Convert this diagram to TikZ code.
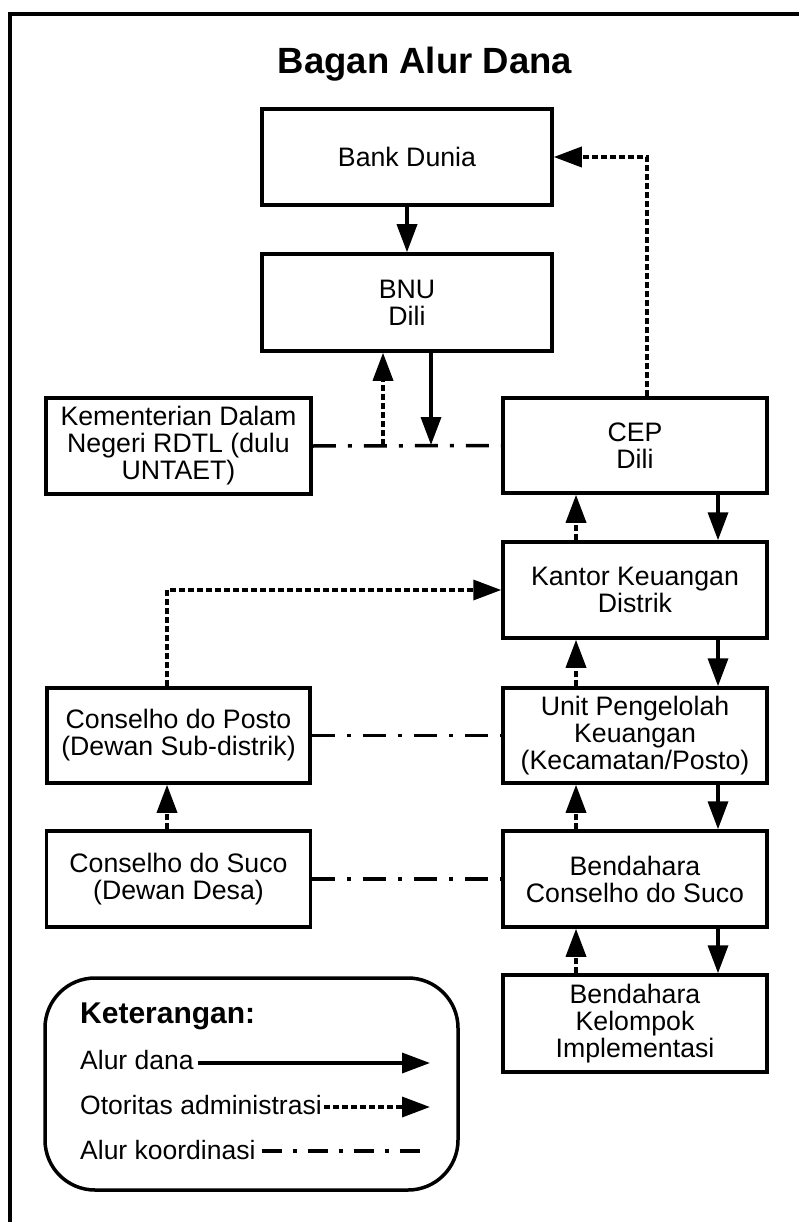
\documentclass[tikz,border=0pt]{standalone}
\usepackage{fontspec}
\setmainfont{Liberation Sans}
\usetikzlibrary{arrows.meta}

\begin{document}
\begin{tikzpicture}[x=1pt, y=-1pt,
  kotak/.style={draw, line width=3.5pt, inner sep=0pt, align=center, font=\fontsize{26.7}{27}\selectfont},
  teks/.style={inner sep=0pt, font=\fontsize{26.5}{27}\selectfont},
  dana/.style={line width=3.5pt, -{Triangle[length=28pt,width=20pt]}},
  otoritas/.style={line width=3.5pt, dash pattern=on 6pt off 3pt, -{Triangle[length=28pt,width=20pt]}},
  koordinasi/.style={line width=3.5pt, dash pattern=on 23pt off 12pt on 4pt off 12pt}]
	\useasboundingbox (0,0) rectangle (798,1222);
	\draw[line width=3.5pt] (10,14) rectangle (830,1250);
	\node[inner sep=0pt, font=\fontsize{36.5}{37}\bfseries] (judul) at (425,74) [anchor=base] {Bagan Alur Dana};

	% kotak-kotak
	\node[kotak, minimum width=290pt, minimum height=96pt] (bank) at (407,157) {Bank Dunia};
	\node[kotak, minimum width=290pt, minimum height=97pt] (bnu) at (407,302.5) {BNU\\Dili};
	\node[kotak, minimum width=265pt, minimum height=96pt] (kemen) at (178.5,446) {Kementerian Dalam\\Negeri RDTL (dulu\\UNTAET)};
	\node[kotak, minimum width=264pt, minimum height=95pt] (cep) at (635,445.5) {CEP\\Dili};
	\node[kotak, minimum width=264pt, minimum height=96pt] (kantor) at (635,590) {Kantor Keuangan\\Distrik};
	\node[kotak, minimum width=264pt, minimum height=95pt] (unit) at (635,735.5) {Unit Pengelolah\\Keuangan\\(Kecamatan/Posto)};
	\node[kotak, minimum width=264pt, minimum height=96pt] (bsuco) at (635,879) {Bendahara\\Conselho do Suco};
	\node[kotak, minimum width=264pt, minimum height=97pt] (kelompok) at (635,1023.5) {Bendahara\\Kelompok\\Implementasi};
	\node[kotak, minimum width=263pt, minimum height=95pt] (posto) at (178.5,735.5) {Conselho do Posto\\(Dewan Sub-distrik)};
	\node[kotak, minimum width=264pt, minimum height=96pt] (suco) at (178.5,879) {Conselho do Suco\\(Dewan Desa)};

	% alur dana
	\draw[dana] (bank) -- (bnu);
	\coordinate (kdana) at (431,445);
	\coordinate (kotor) at (383,445);
	\draw[koordinasi] (kemen.east) -- (cep.west);
	\draw[dana] (bnu.south -| kdana) -- (kdana);
	\draw[otoritas] (kotor) -- (bnu.south -| kotor);
	\draw[otoritas] ([xshift=12pt]cep.north) |- (bank.east);
	\draw[dana] ([xshift=83pt]cep.south) -- ([xshift=83pt]kantor.north);
	\draw[otoritas] ([xshift=-59pt]kantor.north) -- ([xshift=-59pt]cep.south);
	\draw[dana] ([xshift=83pt]kantor.south) -- ([xshift=83pt]unit.north);
	\draw[otoritas] ([xshift=-59pt]unit.north) -- ([xshift=-59pt]kantor.south);
	\draw[dana] ([xshift=83pt]unit.south) -- ([xshift=83pt]bsuco.north);
	\draw[otoritas] ([xshift=-59pt]bsuco.north) -- ([xshift=-59pt]unit.south);
	\draw[dana] ([xshift=83pt]bsuco.south) -- ([xshift=83pt]kelompok.north);
	\draw[otoritas] ([xshift=-59pt]kelompok.north) -- ([xshift=-59pt]bsuco.south);
	\draw[otoritas] ([xshift=-11.5pt]posto.north) |- (kantor.west);
	\draw[otoritas] ([xshift=-11.5pt]suco.north) -- ([xshift=-11.5pt]posto.south);
	\draw[koordinasi] (posto.east) -- (unit.west);
	\draw[koordinasi] (suco.east) -- (bsuco.west);

	% keterangan
	\draw[line width=3.5pt, rounded corners=50pt] (45,978) rectangle (458,1190);
	\node[inner sep=0pt, anchor=base west, font=\fontsize{30}{30}\bfseries] (ket) at (80,1023) {Keterangan:};
	\node[teks, anchor=base west] (ldana) at (80,1069) {Alur dana};
	\node[teks, anchor=base west] (lotor) at (80,1114) {Otoritas administrasi};
	\node[teks, anchor=base west] (lkoor) at (80,1159) {Alur koordinasi};
	\coordinate (ldanaujung) at (430,1063);
	\coordinate (lotorujung) at (430,1107);
	\coordinate (lkoorujung) at (422,1151);
	\draw[dana] ([xshift=4pt]ldana.east |- ldanaujung) -- (ldanaujung);
	\draw[otoritas] ([xshift=2pt]lotor.east |- lotorujung) -- (lotorujung);
	\draw[koordinasi, dash pattern=on 20pt off 11pt on 4pt off 11pt] ([xshift=6pt]lkoor.east |- lkoorujung) -- (lkoorujung);
\end{tikzpicture}
\end{document}
